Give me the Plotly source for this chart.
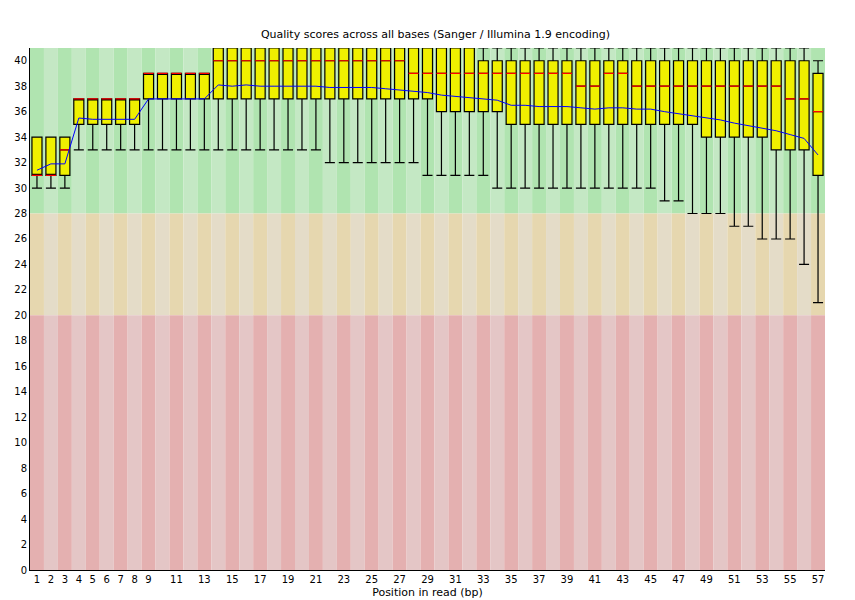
import plotly.graph_objects as go

positions = list(range(1, 58))

median = ([31, 31, 33] + [37] * 5 + [39] * 5 + [40] * 14 + [39] * 12
          + [38, 38, 39, 39] + [38] * 11 + [37, 37, 36])
q1 = ([31] * 3 + [35] * 5 + [37] * 5 + [37] * 16 + [36] * 5
      + [35] * 14 + [34] * 5 + [33] * 3 + [31])
q3 = ([34] * 3 + [37] * 5 + [39] * 5 + [41] * 19 + [40] * 24 + [39])
lower = ([30] * 3 + [33] * 18 + [32] * 7 + [31] * 5 + [30] * 12
         + [29, 29, 28, 28, 28, 27, 27, 26, 26, 26, 24, 21])
upper = ([34] * 3 + [37] * 5 + [39] * 5 + [41] * 43 + [40])
mean = [31.4, 31.9, 31.9, 35.5, 35.4, 35.4, 35.4, 35.4, 37.0, 37.0,
        37.0, 37.0, 37.0, 38.1, 38.0, 38.1, 38.0, 38.0, 38.0, 38.0,
        38.0, 37.9, 37.9, 37.9, 37.9, 37.8, 37.7, 37.6, 37.5, 37.3,
        37.2, 37.1, 37.0, 36.9, 36.5, 36.5, 36.4, 36.4, 36.4, 36.3,
        36.2, 36.3, 36.3, 36.2, 36.2, 36.0, 35.85, 35.7, 35.5, 35.35,
        35.1, 34.9, 34.75, 34.5, 34.2, 33.9, 32.6]

x_ticks = list(range(1, 10)) + list(range(11, 58, 2))
y_ticks = list(range(0, 41, 2))

fig = go.Figure()

# background bands: good / ok / poor, alternating shades per column
bands = [(28, 41, "rgb(176,228,176)", "rgb(196,232,196)"),
         (20, 28, "rgb(230,215,175)", "rgb(228,220,200)"),
         (0, 20, "rgb(228,176,176)", "rgb(228,198,198)")]
for lo, hi, dark, light in bands:
    for p in positions:
        fig.add_shape(type="rect", x0=p - 0.5, x1=p + 0.5, y0=lo, y1=hi,
                      fillcolor=dark if p % 2 else light, line_width=0,
                      layer="below")

fig.add_trace(go.Box(
    x=positions, q1=q1, median=median, q3=q3,
    lowerfence=lower, upperfence=upper,
    fillcolor="rgb(240,240,0)", line=dict(color="black", width=1.2),
    width=0.72, whiskerwidth=1, showlegend=False, hoverinfo="skip"))

# red median marks drawn as flat boxes
fig.add_trace(go.Box(
    x=positions, q1=median, median=median, q3=median,
    lowerfence=median, upperfence=median,
    fillcolor="red", line=dict(color="red", width=1.2),
    width=0.72, whiskerwidth=0, showlegend=False, hoverinfo="skip"))

fig.add_trace(go.Scatter(x=positions, y=mean, mode="lines",
                         line=dict(color="blue", width=1), showlegend=False))

fig.update_layout(
    width=855, height=600,
    margin=dict(l=22, r=38, t=40, b=38, autoexpand=False),
    paper_bgcolor="white", plot_bgcolor="white",
    boxmode="overlay",
    font=dict(family="DejaVu Sans", size=10, color="black"),
    title=dict(text="Quality scores across all bases (Sanger / Illumina 1.9 encoding)",
               x=0.5, xanchor="center", y=0.963, font=dict(size=11)),
    xaxis=dict(range=[0.5, 57.5], tickvals=x_ticks, ticktext=[str(t) for t in x_ticks],
               showgrid=False, zeroline=False, showline=True, linecolor="black",
               ticks="", automargin=False,
               title=dict(text="Position in read (bp)", standoff=4, font=dict(size=11))),
    yaxis=dict(range=[0, 41], tickvals=y_ticks, showgrid=False, zeroline=False,
               showline=True, linecolor="black", ticks="", automargin=False),
)

fig.write_html("out.html")
